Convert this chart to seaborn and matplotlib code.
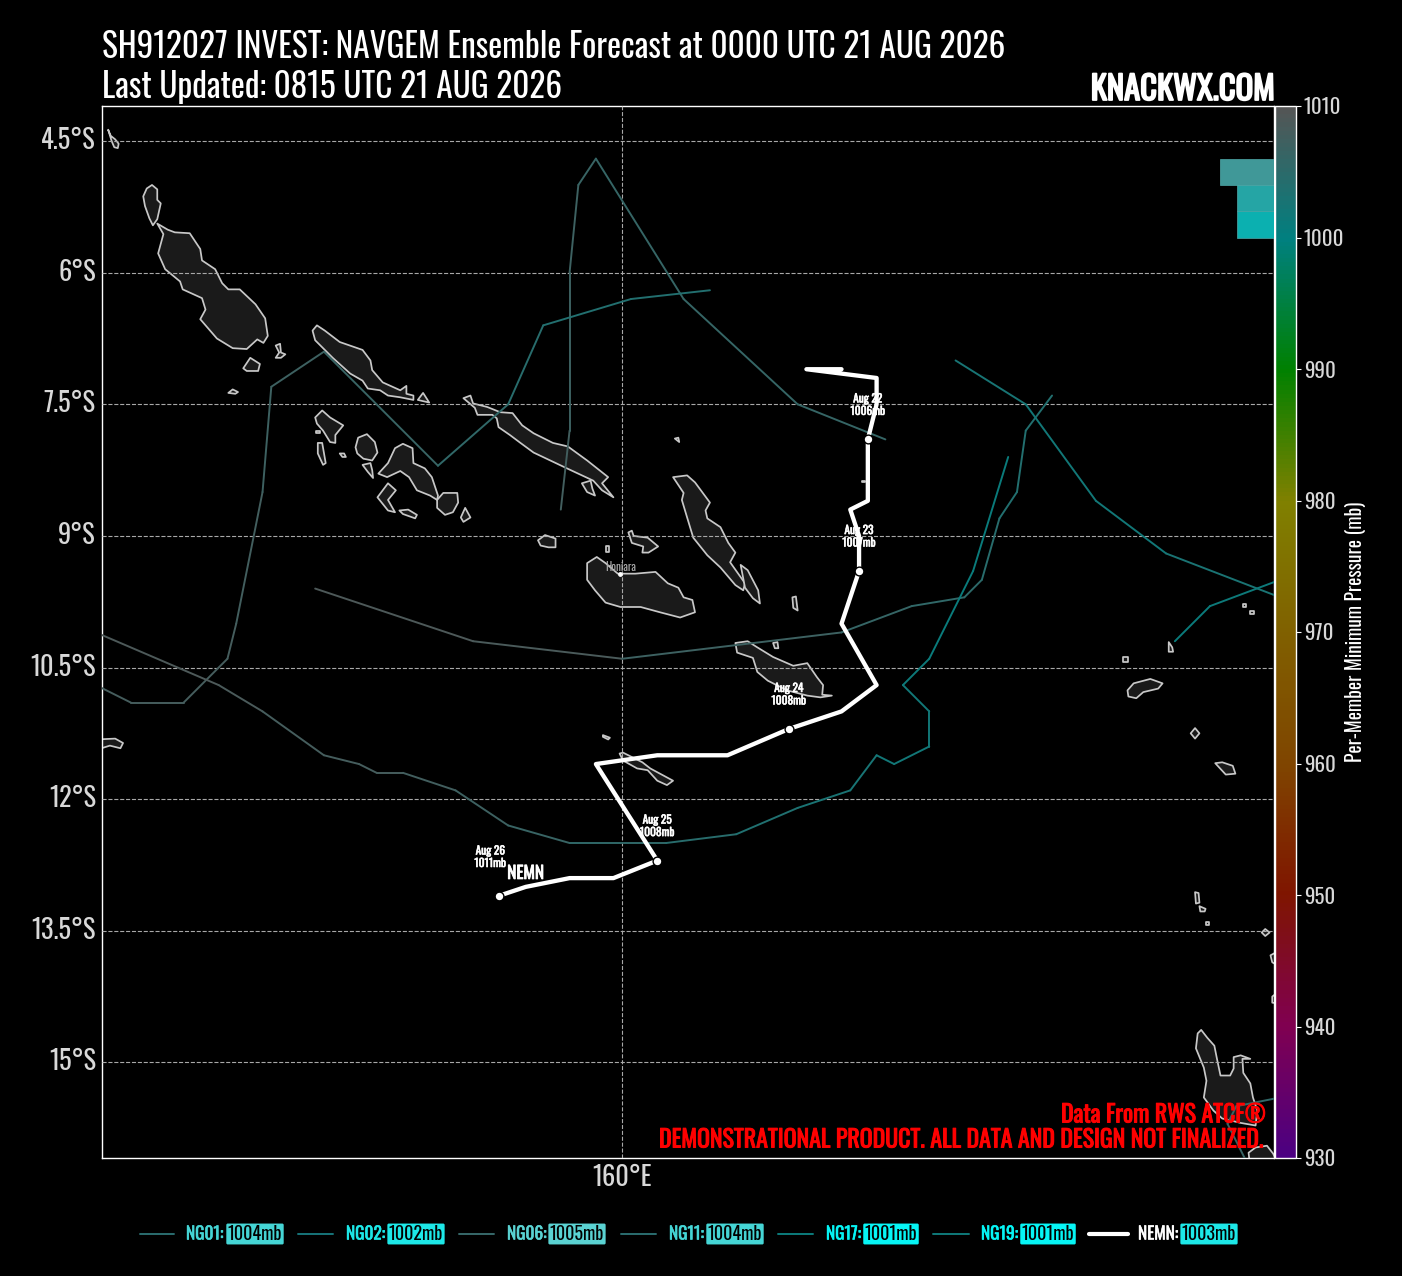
import matplotlib
matplotlib.use('Agg')
import matplotlib.pyplot as plt
import matplotlib.patheffects as pe
from matplotlib.colors import LinearSegmentedColormap, Normalize
from matplotlib.cm import ScalarMappable
from matplotlib.transforms import ScaledTranslation
import pandas as pd
import seaborn as sns

LON_MIN, LON_MAX = 154.07, 167.43
LAT_MIN, LAT_MAX = -16.09, -4.10

# ensemble tracks
ng06_lon = [159.3, 159.4, 159.4, 159.5, 159.7, 160.7, 162.0, 163.0]
ng06_lat = [-8.7, -7.8, -6.0, -5.0, -4.7, -6.3, -7.5, -7.9]
ng06_pres = [1008, 1007, 1007, 1007, 1006, 1006, 1006, 1006]

ng11_lon = [154.0, 154.4, 155.0, 155.5, 155.6, 155.9, 156.0, 156.6, 157.9, 158.7, 159.1, 160.1, 161.0]
ng11_lat = [-10.7, -10.9, -10.9, -10.4, -10.0, -8.5, -7.3, -6.9, -8.2, -7.5, -6.6, -6.3, -6.2]
ng11_pres = [1008, 1008, 1008, 1008, 1008, 1007, 1007, 1007, 1006, 1005, 1004, 1004, 1004]

ng01_lon = [156.5, 158.3, 160.0, 162.5, 163.3, 163.9, 164.1, 164.3, 164.5, 164.6, 164.9]
ng01_lat = [-9.6, -10.2, -10.4, -10.1, -9.8, -9.7, -9.5, -8.8, -8.5, -7.8, -7.4]
ng01_pres = [1009, 1009, 1008, 1006, 1006, 1005, 1005, 1004, 1004, 1004, 1004]

ng17_lon = [154.0, 155.4, 155.9, 156.6, 157.0, 157.2, 157.5, 158.1, 158.7, 159.4, 160.5, 161.3, 162.0, 162.6, 162.9,
            163.1, 163.5, 163.5, 163.2, 163.5, 164.0, 164.4]
ng17_lat = [-10.1, -10.7, -11.0, -11.5, -11.6, -11.7, -11.7, -11.9, -12.3, -12.5, -12.5, -12.4, -12.1, -11.9, -11.5,
            -11.6, -11.4, -11.0, -10.7, -10.4, -9.4, -8.1]
ng17_pres = [1009, 1009, 1008, 1008, 1008, 1008, 1008, 1007, 1007, 1006, 1005, 1004, 1003, 1003, 1002,
             1002, 1002, 1002, 1002, 1001, 1001, 1001]

ng02_lon = [163.8, 164.6, 165.4, 166.2, 167.5]
ng02_lat = [-7.0, -7.5, -8.6, -9.2, -9.7]
ng02_pres = [1003, 1002, 1002, 1002, 1004]

ng19_lon = [167.2, 167.1, 166.9, 167.0, 167.5, 168.6, 167.5, 166.7, 166.3]
ng19_lat = [-16.3, -16.1, -15.7, -15.5, -15.4, -12.5, -9.5, -9.8, -10.2]
ng19_pres = [1008, 1007, 1006, 1006, 1005, 1004, 1002, 1001, 1001]

# control run
nemn_lon = [162.5, 162.1, 162.9, 162.9, 162.8, 162.8, 162.6, 162.7, 162.7, 162.5, 162.9, 162.5, 161.9, 161.2, 160.4,
            159.7, 160.4, 159.9, 159.4, 158.9, 158.6]
nemn_lat = [-7.1, -7.1, -7.2, -7.5, -7.9, -8.6, -8.7, -9.0, -9.4, -10.0, -10.7, -11.0, -11.2, -11.5, -11.5,
            -11.6, -12.7, -12.9, -12.9, -13.0, -13.1]

day_lon = [162.8, 162.7, 161.9, 160.4, 158.6]
day_lat = [-7.9, -9.4, -11.2, -12.7, -13.1]
day_labels = ['Aug 22\n1006mb', 'Aug 23\n1007mb', 'Aug 24\n1008mb', 'Aug 25\n1008mb', 'Aug 26\n1011mb']

members = ['NG01', 'NG02', 'NG06', 'NG11', 'NG17', 'NG19', 'NEMN']
member_min = ['1004mb', '1002mb', '1005mb', '1004mb', '1001mb', '1001mb', '1003mb']
member_line = ['#2b6d70', '#17757a', '#37696a', '#2b6d70', '#0c7c7c', '#0f7a7a', '#ffffff']
member_text = ['#45d5d5', '#1de8e8', '#5ad2d2', '#45d5d5', '#06f5f5', '#06f5f5', '#ffffff']
member_box = ['#45d5d5', '#1de8e8', '#5ad2d2', '#45d5d5', '#06f5f5', '#06f5f5', '#1de8e8']

lat_ticks = [-4.5, -6, -7.5, -9, -10.5, -12, -13.5, -15]
lat_labels = ['4.5°S', '6°S', '7.5°S', '9°S', '10.5°S', '12°S', '13.5°S', '15°S']
pres_ticks = [930, 940, 950, 960, 970, 980, 990, 1000, 1010]

cbar_colors = ['#4b0082', '#800050', '#7f1500', '#7f4500', '#806000', '#808000', '#008000', '#008080', '#555555']

cell_lat = [-4.85, -5.15, -5.45]
cell_west = [166.81, 167.01, 167.01]
cell_colors = ['#409898', '#25a5a5', '#0bb0b0']

# coastlines
BUKA = [(154.54, -5.13), (154.58, -5.04), (154.64, -5.00), (154.70, -5.05), (154.70, -5.17), (154.74, -5.21),
        (154.70, -5.39), (154.65, -5.46), (154.61, -5.38), (154.56, -5.24)]
BOUGAINVILLE = [(154.70, -5.44), (154.82, -5.51), (154.90, -5.54), (155.07, -5.55), (155.19, -5.73), (155.21, -5.86),
                (155.36, -5.96), (155.44, -6.12), (155.51, -6.19), (155.64, -6.19), (155.82, -6.36), (155.93, -6.52),
                (155.96, -6.72), (155.91, -6.80), (155.84, -6.76), (155.72, -6.87), (155.56, -6.86), (155.38, -6.75),
                (155.19, -6.53), (155.25, -6.42), (155.21, -6.29), (154.99, -6.19), (154.96, -6.10), (154.79, -5.96),
                (154.71, -5.78), (154.77, -5.56)]
NISSAN = [(154.14, -4.37), (154.17, -4.44), (154.22, -4.48), (154.26, -4.53), (154.25, -4.58), (154.21, -4.57), (154.18, -4.50)]
SHORTLAND = [(156.05, -6.83), (156.10, -6.81), (156.11, -6.91), (156.16, -6.93), (156.11, -6.97), (156.05, -6.97), (156.09, -6.91)]
TREASURY = [(155.68, -7.09), (155.76, -6.97), (155.87, -7.04), (155.85, -7.12), (155.72, -7.12)]
MONO = [(155.51, -7.37), (155.56, -7.33), (155.62, -7.36), (155.59, -7.38)]
CHOISEUL = [(156.47, -6.66), (156.52, -6.60), (156.61, -6.66), (156.78, -6.79), (157.04, -6.88), (157.13, -7.00),
            (157.15, -7.11), (157.27, -7.25), (157.47, -7.34), (157.54, -7.29), (157.54, -7.38), (157.62, -7.40),
            (157.62, -7.45), (157.47, -7.42), (157.33, -7.40), (157.24, -7.34), (157.10, -7.32), (157.04, -7.23),
            (156.90, -7.15), (156.70, -6.97), (156.50, -6.77)]
ROB_ROY = [(157.67, -7.45), (157.73, -7.37), (157.80, -7.48)]
ISABEL = [(158.19, -7.43), (158.27, -7.40), (158.30, -7.49), (158.46, -7.53), (158.61, -7.59), (158.75, -7.60),
          (158.86, -7.74), (158.99, -7.83), (159.21, -7.94), (159.38, -7.98), (159.60, -8.14), (159.84, -8.33),
          (159.77, -8.40), (159.90, -8.56), (159.77, -8.48), (159.67, -8.37), (159.37, -8.23), (159.18, -8.14),
          (158.99, -8.05), (158.84, -7.94), (158.72, -7.85), (158.59, -7.76), (158.57, -7.66), (158.52, -7.62),
          (158.35, -7.62), (158.32, -7.54)]
SAN_JORGE = [(159.54, -8.40), (159.64, -8.37), (159.66, -8.46), (159.69, -8.54), (159.60, -8.50)]
VELLA = [(156.50, -7.65), (156.58, -7.57), (156.67, -7.65), (156.82, -7.74), (156.73, -7.85), (156.73, -7.94),
         (156.67, -7.93), (156.59, -7.80), (156.52, -7.72)]
GANONGGA = [(156.53, -7.94), (156.58, -7.94), (156.62, -8.17), (156.59, -8.19), (156.53, -8.06)]
GIZO = [(156.78, -8.06), (156.83, -8.06), (156.85, -8.10), (156.81, -8.10)]
SIMBO = [(156.51, -7.80), (156.56, -7.80), (156.56, -7.83), (156.51, -7.83)]
KOLOMBANGARA = [(156.96, -7.99), (156.99, -7.88), (157.09, -7.84), (157.18, -7.93), (157.21, -8.05), (157.15, -8.14),
                (157.05, -8.12), (156.98, -8.06)]
KOHINGGO = [(157.04, -8.19), (157.13, -8.17), (157.15, -8.25), (157.16, -8.34), (157.10, -8.27)]
NEW_GEORGIA = [(157.22, -8.29), (157.33, -8.17), (157.41, -8.00), (157.50, -7.95), (157.61, -8.00), (157.62, -8.17),
               (157.75, -8.23), (157.83, -8.33), (157.90, -8.54), (157.89, -8.59), (157.81, -8.54), (157.66, -8.48),
               (157.57, -8.33), (157.47, -8.26), (157.32, -8.33)]
VANGUNU = [(157.89, -8.59), (157.96, -8.51), (158.12, -8.51), (158.13, -8.62), (158.07, -8.73), (157.98, -8.76), (157.89, -8.68)]
RENDOVA = [(157.21, -8.56), (157.33, -8.40), (157.42, -8.48), (157.33, -8.59), (157.41, -8.73), (157.33, -8.71)]
TETEPARE = [(157.46, -8.71), (157.56, -8.70), (157.66, -8.76), (157.64, -8.80), (157.50, -8.75)]
GATOKAE = [(158.21, -8.68), (158.27, -8.79), (158.19, -8.84), (158.16, -8.79)]
RUSSELL = [(159.04, -9.05), (159.12, -8.99), (159.24, -9.03), (159.24, -9.13), (159.16, -9.13), (159.07, -9.11)]
SAVO = [(159.81, -9.11), (159.85, -9.11), (159.85, -9.18), (159.81, -9.18)]
NGGELA = [(160.07, -8.96), (160.11, -8.94), (160.13, -9.00), (160.29, -9.02), (160.41, -9.12), (160.30, -9.19),
          (160.23, -9.19), (160.24, -9.12), (160.11, -9.08)]
GUADALCANAL = [(159.60, -9.31), (159.71, -9.24), (159.81, -9.31), (159.95, -9.43), (160.15, -9.43), (160.38, -9.41),
               (160.52, -9.54), (160.64, -9.59), (160.70, -9.70), (160.80, -9.73), (160.83, -9.87), (160.66, -9.93),
               (160.43, -9.87), (160.21, -9.81), (159.98, -9.81), (159.81, -9.76), (159.69, -9.62), (159.60, -9.50)]
MALAITA = [(160.58, -8.33), (160.74, -8.31), (160.83, -8.39), (161.00, -8.62), (160.95, -8.71), (160.97, -8.80),
           (161.12, -8.90), (161.21, -9.08), (161.29, -9.19), (161.23, -9.30), (161.40, -9.54), (161.38, -9.62),
           (161.29, -9.56), (161.12, -9.36), (160.97, -9.22), (160.81, -9.02), (160.74, -8.79), (160.68, -8.59), (160.70, -8.51)]
SMALL_MALAITA = [(161.35, -9.33), (161.43, -9.39), (161.55, -9.62), (161.57, -9.77), (161.49, -9.71), (161.40, -9.59)]
ONTONG = [(160.60, -7.89), (160.64, -7.88), (160.65, -7.93)]
SIKAIANA = [(161.94, -9.70), (161.98, -9.69), (162.00, -9.85), (161.95, -9.82)]
ULAWA = [(161.72, -10.22), (161.77, -10.21), (161.78, -10.28), (161.74, -10.28)]
MAKIRA = [(161.29, -10.22), (161.43, -10.20), (161.54, -10.27), (161.72, -10.38), (161.95, -10.48), (162.11, -10.45),
          (162.22, -10.61), (162.29, -10.70), (162.28, -10.81), (162.39, -10.82), (162.26, -10.84), (162.11, -10.82),
          (161.88, -10.76), (161.66, -10.65), (161.54, -10.55), (161.49, -10.39), (161.31, -10.33)]
RENNELL = [(159.97, -11.48), (160.01, -11.47), (160.23, -11.58), (160.32, -11.65), (160.58, -11.79), (160.51, -11.84),
           (160.40, -11.79), (160.29, -11.67), (160.17, -11.65), (160.01, -11.56)]
BELLONA = [(159.78, -11.27), (159.86, -11.30), (159.84, -11.32), (159.78, -11.29)]
ROSSEL = [(154.00, -11.32), (154.22, -11.31), (154.31, -11.36), (154.28, -11.42), (154.16, -11.39), (154.00, -11.44)]
DUFF = [(165.71, -10.38), (165.77, -10.38), (165.77, -10.44), (165.71, -10.44)]
NUPANI = [(166.23, -10.21), (166.27, -10.27), (166.28, -10.32), (166.23, -10.32)]
SANTA_CRUZ = [(165.76, -10.76), (165.83, -10.68), (166.02, -10.63), (166.16, -10.68), (166.11, -10.74), (165.94, -10.78),
              (165.86, -10.85), (165.77, -10.83)]
UTUPUA = [(166.48, -11.25), (166.53, -11.19), (166.58, -11.25), (166.53, -11.31)]
VANIKORO = [(166.76, -11.59), (166.84, -11.58), (166.96, -11.62), (166.99, -11.71), (166.88, -11.72)]
TINAKULA = [(167.08, -9.78), (167.11, -9.78), (167.11, -9.81), (167.08, -9.81)]
REEF = [(167.16, -9.85), (167.20, -9.85), (167.20, -9.89), (167.16, -9.89)]
INDISPENSABLE = [(162.73, -8.37), (162.77, -8.37), (162.77, -8.39), (162.73, -8.39)]
TORRES_A = [(166.53, -13.06), (166.57, -13.07), (166.58, -13.18), (166.54, -13.19)]
TORRES_B = [(166.58, -13.22), (166.65, -13.25), (166.64, -13.28), (166.59, -13.28)]
TORRES_C = [(166.65, -13.40), (166.69, -13.40), (166.69, -13.44), (166.65, -13.44)]
VANUA_LAVA = [(167.29, -13.52), (167.33, -13.48), (167.38, -13.52), (167.33, -13.56)]
GAUA = [(167.50, -13.72), (167.39, -13.78), (167.41, -13.86), (167.50, -13.91)]
MAEWO = [(167.50, -14.18), (167.41, -14.25), (167.41, -14.32), (167.50, -14.33)]
SANTO = [(166.56, -14.67), (166.60, -14.63), (166.67, -14.72), (166.75, -14.81), (166.78, -14.96), (166.82, -15.15),
         (166.93, -15.15), (166.97, -15.07), (166.97, -14.94), (167.05, -14.92), (167.16, -14.96), (167.07, -14.96),
         (167.08, -15.12), (167.16, -15.24), (167.19, -15.40), (167.24, -15.55), (167.22, -15.72), (167.05, -15.69),
         (166.84, -15.64), (166.74, -15.55), (166.63, -15.40), (166.66, -15.21), (166.63, -15.06), (166.54, -14.84)]
MALEKULA = [(167.16, -16.20), (167.14, -16.03), (167.22, -15.97), (167.35, -15.95), (167.42, -16.04), (167.50, -16.20)]

islands = [BUKA, BOUGAINVILLE, NISSAN, SHORTLAND, TREASURY, MONO, CHOISEUL, ROB_ROY, ISABEL, SAN_JORGE, VELLA, GANONGGA,
           GIZO, SIMBO, KOLOMBANGARA, KOHINGGO, NEW_GEORGIA, VANGUNU, RENDOVA, TETEPARE, GATOKAE, RUSSELL, SAVO, NGGELA,
           GUADALCANAL, MALAITA, SMALL_MALAITA, ONTONG, SIKAIANA, ULAWA, MAKIRA, RENNELL, BELLONA, ROSSEL, DUFF, NUPANI,
           SANTA_CRUZ, UTUPUA, VANIKORO, TINAKULA, REEF, INDISPENSABLE, TORRES_A, TORRES_B, TORRES_C, VANUA_LAVA, GAUA,
           MAEWO, SANTO, MALEKULA]

sns.set_theme(style='dark', rc={'figure.facecolor': 'black', 'axes.facecolor': 'black', 'savefig.facecolor': 'black',
                                'text.color': 'white', 'xtick.color': '#d8d8d8', 'ytick.color': '#d8d8d8'})
plt.rcParams['font.family'] = ['Oswald', 'Liberation Sans Narrow', 'DejaVu Sans']


def heavy(amount, color='white'):
    # the installed Oswald only has the regular weight
    return [pe.withStroke(linewidth=amount, foreground=color)]


W, H = 1402, 1276
fig = plt.figure(figsize=(W / 100, H / 100), dpi=100)
ax = fig.add_axes([102 / W, 1 - 1158 / H, 1172 / W, 1052 / H])

cmap = LinearSegmentedColormap.from_list('pres', cbar_colors, N=256)
norm = Normalize(930, 1010)

for poly in islands:
    ax.fill([p[0] for p in poly], [p[1] for p in poly], facecolor='#1a1a1a', edgecolor='#c8c8c8', lw=1.25, zorder=1,
            joinstyle='round')

# one row pair per track segment so each piece gets its own colour
rows = []
palette = {}
tracks = [(ng06_lon, ng06_lat, ng06_pres), (ng11_lon, ng11_lat, ng11_pres), (ng01_lon, ng01_lat, ng01_pres),
          (ng17_lon, ng17_lat, ng17_pres), (ng02_lon, ng02_lat, ng02_pres), (ng19_lon, ng19_lat, ng19_pres)]
seg = 0
for lons, lats, pres in tracks:
    for i in range(len(lons) - 1):
        rows.append({'seg': seg, 'lon': lons[i], 'lat': lats[i]})
        rows.append({'seg': seg, 'lon': lons[i + 1], 'lat': lats[i + 1]})
        palette[seg] = cmap(norm((pres[i] + pres[i + 1]) / 2))
        seg += 1
seg_df = pd.DataFrame(rows)
sns.lineplot(data=seg_df, x='lon', y='lat', hue='seg', palette=palette, estimator=None, sort=False, legend=False,
             lw=1.4, ax=ax, zorder=3)

nemn_df = pd.DataFrame({'lon': nemn_lon, 'lat': nemn_lat})
sns.lineplot(data=nemn_df, x='lon', y='lat', color='white', estimator=None, sort=False, lw=3.1, ax=ax, zorder=4)
day_df = pd.DataFrame({'lon': day_lon, 'lat': day_lat})
sns.scatterplot(data=day_df, x='lon', y='lat', color='white', edgecolor='black', linewidth=1, s=40, ax=ax, zorder=5)

offsets = [(0, 25), (0, 25), (0, 25), (0, 25), (-6.5, 28)]
for lon, lat, label, off in zip(day_lon, day_lat, day_labels, offsets):
    ax.annotate(label, (lon, lat), xytext=off, textcoords='offset points', ha='center', va='center', fontsize=8.2,
                color='white', linespacing=1.05, zorder=6, path_effects=heavy(0.4))
ax.annotate('NEMN', (158.6, -13.1), xytext=(19, 16), textcoords='offset points', ha='center', va='center',
            fontsize=12.5, color='white', zorder=6, path_effects=heavy(0.6))

ax.scatter([159.98], [-9.43], s=6, color='white', zorder=5)
ax.annotate('Honiara', (159.98, -9.43), xytext=(0, 5), textcoords='offset points', ha='center', va='center',
            fontsize=8, color='#aaaaaa', zorder=6)

# pressure cells in the corner
ax.barh(cell_lat, [LON_MAX - w for w in cell_west], left=cell_west, height=0.3, color=cell_colors, edgecolor='#4fa8a8',
        lw=0.5, zorder=3)

ax.set_xlim(LON_MIN, LON_MAX)
ax.set_ylim(LAT_MIN, LAT_MAX)
ax.set_aspect('auto')
ax.set_xlabel('')
ax.set_ylabel('')
ax.set_xticks([160])
ax.set_xticklabels(['160°E'], fontsize=19)
ax.set_yticks(lat_ticks)
ax.set_yticklabels(lat_labels, fontsize=19)
ax.tick_params(length=0, pad=4.5)
for lab in ax.get_yticklabels():
    lab.set_transform(lab.get_transform() + ScaledTranslation(0, 3 / 100, fig.dpi_scale_trans))
ax.grid(True, color='#a8a8a8', linestyle='--', lw=0.8, zorder=2)
ax.set_axisbelow(False)
for sp in ax.spines.values():
    sp.set_color('white')
    sp.set_linewidth(1.0)

cax = fig.add_axes([1275 / W, 1 - 1158 / H, 21 / W, 1052 / H])
cb = fig.colorbar(ScalarMappable(norm=norm, cmap=cmap), cax=cax)
cb.set_ticks(pres_ticks)
cb.ax.tick_params(labelsize=15, length=3.6, width=0.8, color='white', labelcolor='#d8d8d8', pad=2)
cb.outline.set_edgecolor('white')
cb.outline.set_linewidth(1.0)
fig.text(1355 / W, 1 - 632 / H, 'Per-Member Minimum Pressure (mb)', rotation=90, ha='center', va='center', fontsize=14,
         color='white')

fig.text(102 / W, 1 - 47 / H, 'SH912027 INVEST: NAVGEM Ensemble Forecast at 0000 UTC 21 AUG 2026', ha='left', va='center',
         fontsize=24, color='white')
fig.text(102 / W, 1 - 87 / H, 'Last Updated: 0815 UTC 21 AUG 2026', ha='left', va='center', fontsize=24, color='white')
fig.text(1275 / W, 1 - 90 / H, 'KNACKWX.COM', ha='right', va='center', fontsize=23.5, color='white', path_effects=heavy(1.3))

fig.text(1266 / W, 1 - 1115 / H, 'Data From RWS ATCF®', ha='right', va='center', fontsize=17.2, color='red',
         path_effects=heavy(0.7, 'red'))
fig.text(1264 / W, 1 - 1140 / H, 'DEMONSTRATIONAL PRODUCT. ALL DATA AND DESIGN NOT FINALIZED.', ha='right', va='center',
         fontsize=17.2, color='red', path_effects=heavy(0.7, 'red'))

# legend row along the bottom
line_x = [(140, 174), (298, 333), (459, 494), (621, 656), (778, 813), (933, 969), (1089, 1128)]
name_x = [186, 346, 507, 669, 826, 981, 1138]
box_x = [255, 416, 577, 735, 891, 1048, 1209]
for i, name in enumerate(members):
    lw = 3.0 if name == 'NEMN' else 1.4
    fig.add_artist(plt.Line2D([line_x[i][0] / W, line_x[i][1] / W], [1 - 1234 / H] * 2, color=member_line[i], lw=lw))
    fig.text(name_x[i] / W, 1 - 1234 / H, name + ':', ha='left', va='center', fontsize=12.5, color=member_text[i],
             path_effects=heavy(0.4, member_text[i]))
    fig.text(box_x[i] / W, 1 - 1234 / H, member_min[i], ha='center', va='center', fontsize=13, color='black',
             bbox=dict(boxstyle='round,pad=0.08', facecolor=member_box[i], edgecolor='none'))

fig.savefig('out.png', dpi=100, facecolor='black')
